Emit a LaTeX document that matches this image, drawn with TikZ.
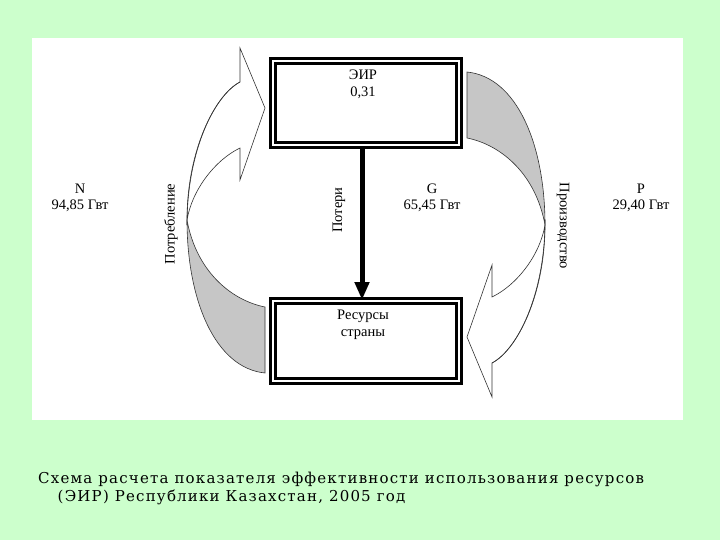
\documentclass[tikz,border=0pt]{standalone}
\usepackage{fontspec}
\usetikzlibrary{arrows.meta}
\setmainfont{Liberation Serif}
\newfontfamily\capfont[LetterSpace=8]{DejaVu Serif}
\definecolor{bgg}{RGB}{204,255,204}
\newcommand{\curvedarrow}{%
 \fill[gray!45] (187,220) .. controls (196,270) and (230,300) .. (265,307) -- (265,373) .. controls (215,368) and (187,300) .. (187,220) -- cycle;
 \draw[curv] (187,220) .. controls (196,270) and (230,300) .. (265,307) -- (265,373) .. controls (215,368) and (187,300) .. (187,220);
 \filldraw[curv, fill=white] (187,225) .. controls (187,150) and (215,95) .. (240,82) -- (240,48) -- (265,108) -- (240,180) -- (240,148) .. controls (215,160) and (192,190) .. (187,220);
 \draw[curv] (187,220) .. controls (187,150) and (215,95) .. (240,82);
}
\begin{document}
\begin{tikzpicture}[x=1pt,y=-1pt,
  lbl/.style={font=\fontsize{14.5}{16.5}\selectfont, align=center, inner sep=0pt},
  boxst/.style={draw, line width=3.5pt, double=white, double distance=1.2pt},
  curv/.style={draw=black!80, line width=0.6pt}]
\useasboundingbox (0,0) rectangle (720,540);
\fill[bgg] (0,0) rectangle (720,540);
\fill[white] (32,38) rectangle (683,420);
\curvedarrow
\begin{scope}[rotate around={180:(366,222.5)}]
\curvedarrow
\end{scope}
\node[boxst, minimum width=186, minimum height=84] (eir) at (366,103) {};
\node[lbl, anchor=north] at (363,70) {ЭИР\\0,31};
\node[boxst, minimum width=186, minimum height=80] (res) at (366,341) {};
\node[lbl, anchor=north] at (363,310) {Ресурсы\\страны};
\draw[line width=5pt, -{Triangle[width=14pt,length=18pt]}] (eir.south -| 362,0) -- (362,300);
\node[lbl] at (80,198) {N\\94,85 Гвт};
\node[lbl] at (432,198) {G\\65,45 Гвт};
\node[lbl] at (641,198) {P\\29,40 Гвт};
\node[lbl, rotate=90] at (171,224) {Потребление};
\node[lbl, rotate=90] at (339,210) {Потери};
\node[lbl, rotate=-90] at (563,226) {Производство};
\node[font=\capfont\fontsize{15}{18}\selectfont, anchor=north west, align=left, inner sep=0pt] (cap) at (38,472) {Схема расчета показателя эффективности использования ресурсов\\\hspace*{1.3em}(ЭИР) Республики Казахстан, 2005 год};
\end{tikzpicture}
\end{document}
